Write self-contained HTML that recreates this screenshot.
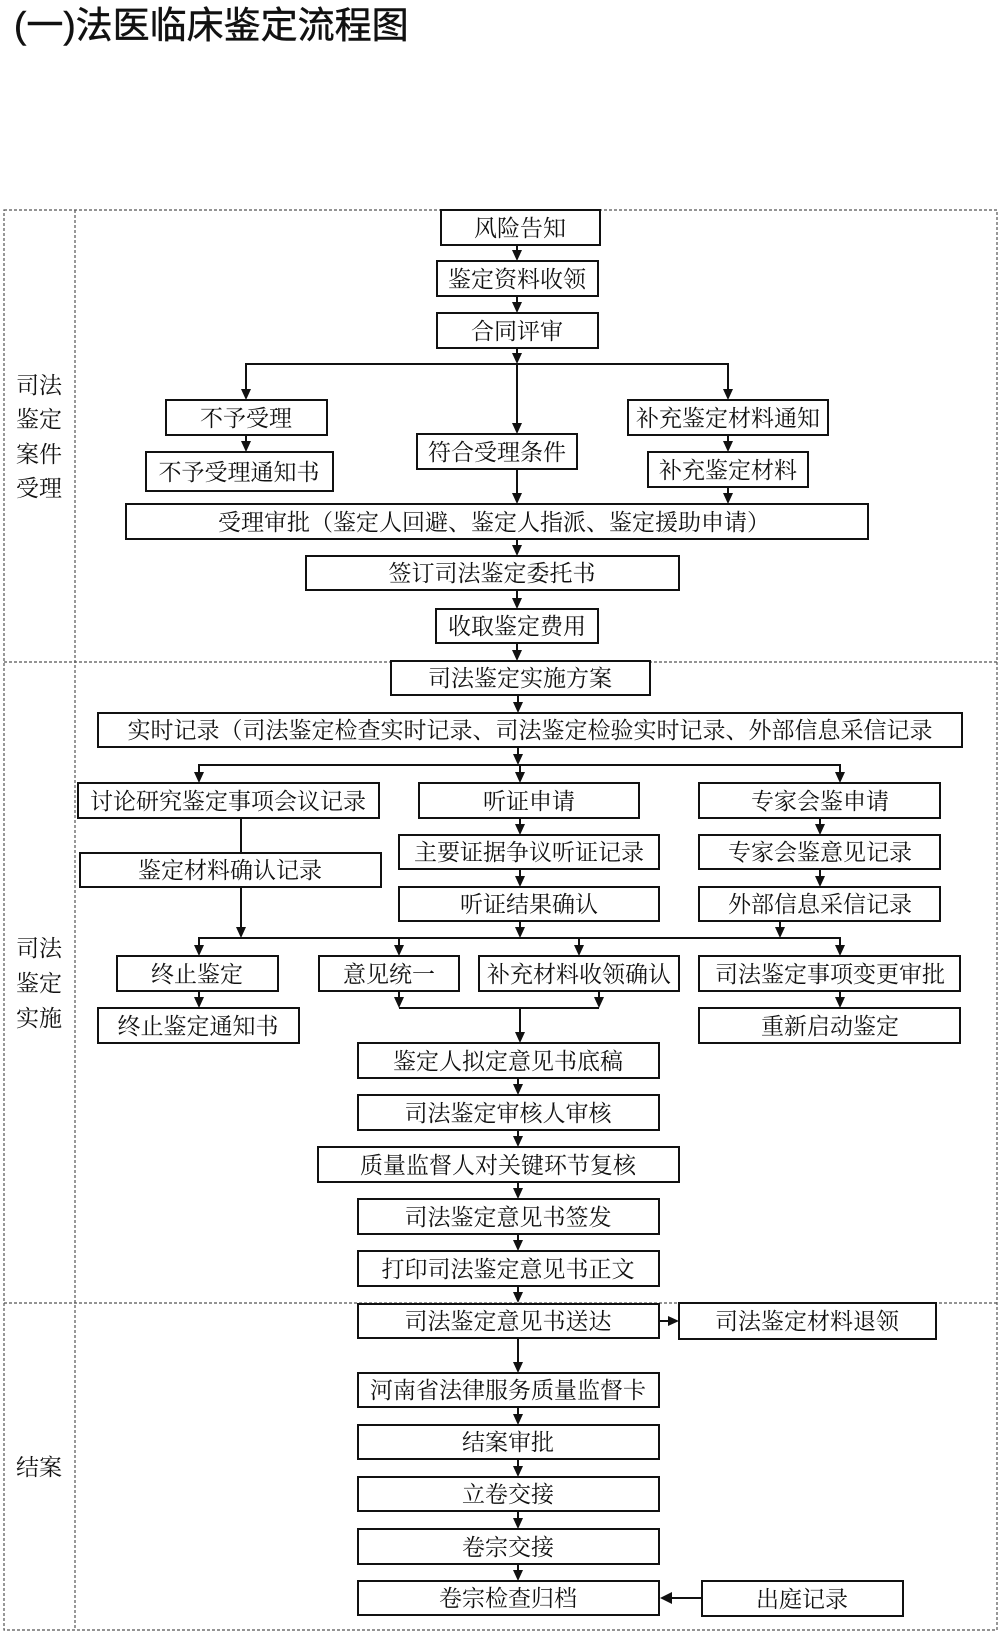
<!DOCTYPE html>
<html><head><meta charset="utf-8"><style>
html,body{margin:0;padding:0;background:#fff;}
svg{display:block;}
text{font-family:"Liberation Serif","Noto Serif CJK SC",serif;font-size:23px;fill:#111;}
</style></head><body>
<svg width="1000" height="1634" viewBox="0 0 1000 1634" xmlns="http://www.w3.org/2000/svg">
<text x="14" y="38" style="font-family:'Liberation Sans','Noto Sans CJK SC',sans-serif;font-size:37px;stroke:#111;stroke-width:0.5;">(一)法医临床鉴定流程图</text>
<g stroke="#555" stroke-width="1.2" stroke-dasharray="3,2" fill="none">
<rect x="4" y="210" width="993" height="1420"/>
<line x1="75" y1="210" x2="75" y2="1630"/>
<line x1="4" y1="662" x2="997" y2="662"/>
<line x1="4" y1="1303" x2="997" y2="1303"/>
</g>
<g text-anchor="middle" style="font-size:22px">
<text x="39" y="393">司法</text><text x="39" y="427">鉴定</text><text x="39" y="462">案件</text><text x="39" y="496">受理</text>
<text x="39" y="956">司法</text><text x="39" y="991">鉴定</text><text x="39" y="1026">实施</text>
<text x="39" y="1475">结案</text>
</g>
<g fill="#fff" stroke="#111" stroke-width="2">
<rect x="441" y="210" width="159" height="35"/>
<rect x="437" y="261" width="161" height="35"/>
<rect x="437" y="313" width="161" height="35"/>
<rect x="166" y="400" width="161" height="35"/>
<rect x="146" y="452" width="187" height="39"/>
<rect x="417" y="434" width="160" height="35"/>
<rect x="628" y="400" width="200" height="35"/>
<rect x="648" y="452" width="160" height="35"/>
<rect x="126" y="504" width="742" height="35"/>
<rect x="306" y="556" width="373" height="34"/>
<rect x="436" y="609" width="162" height="34"/>
<rect x="391" y="661" width="259" height="34"/>
<rect x="98" y="713" width="864" height="34"/>
<rect x="78" y="783" width="301" height="35"/>
<rect x="419" y="783" width="220" height="35"/>
<rect x="699" y="783" width="241" height="35"/>
<rect x="80" y="853" width="301" height="34"/>
<rect x="399" y="835" width="260" height="34"/>
<rect x="699" y="835" width="241" height="34"/>
<rect x="399" y="887" width="260" height="34"/>
<rect x="699" y="887" width="241" height="34"/>
<rect x="117" y="956" width="161" height="35"/>
<rect x="319" y="956" width="140" height="35"/>
<rect x="479" y="956" width="200" height="35"/>
<rect x="699" y="956" width="261" height="35"/>
<rect x="98" y="1008" width="201" height="35"/>
<rect x="699" y="1008" width="261" height="35"/>
<rect x="358" y="1043" width="301" height="35"/>
<rect x="358" y="1095" width="301" height="35"/>
<rect x="318" y="1147" width="361" height="35"/>
<rect x="358" y="1199" width="301" height="35"/>
<rect x="358" y="1251" width="301" height="35"/>
<rect x="358" y="1304" width="301" height="34"/>
<rect x="679" y="1303" width="257" height="36"/>
<rect x="358" y="1373" width="301" height="34"/>
<rect x="358" y="1425" width="301" height="34"/>
<rect x="358" y="1477" width="301" height="34"/>
<rect x="358" y="1529" width="301" height="35"/>
<rect x="358" y="1581" width="301" height="34"/>
<rect x="702" y="1581" width="201" height="35"/>
</g>
<g text-anchor="middle">
<text x="520" y="236">风险告知</text>
<text x="517" y="287">鉴定资料收领</text>
<text x="517" y="339">合同评审</text>
<text x="246" y="426">不予受理</text>
<text x="239" y="480">不予受理通知书</text>
<text x="497" y="460">符合受理条件</text>
<text x="728" y="426">补充鉴定材料通知</text>
<text x="728" y="478">补充鉴定材料</text>
<text x="494" y="530">受理审批（鉴定人回避、鉴定人指派、鉴定援助申请）</text>
<text x="492" y="581">签订司法鉴定委托书</text>
<text x="517" y="634">收取鉴定费用</text>
<text x="520" y="686">司法鉴定实施方案</text>
<text x="530" y="738">实时记录（司法鉴定检查实时记录、司法鉴定检验实时记录、外部信息采信记录</text>
<text x="228" y="809">讨论研究鉴定事项会议记录</text>
<text x="529" y="809">听证申请</text>
<text x="820" y="809">专家会鉴申请</text>
<text x="230" y="878">鉴定材料确认记录</text>
<text x="529" y="860">主要证据争议听证记录</text>
<text x="820" y="860">专家会鉴意见记录</text>
<text x="529" y="912">听证结果确认</text>
<text x="820" y="912">外部信息采信记录</text>
<text x="197" y="982">终止鉴定</text>
<text x="389" y="982">意见统一</text>
<text x="579" y="982">补充材料收领确认</text>
<text x="830" y="982">司法鉴定事项变更审批</text>
<text x="198" y="1034">终止鉴定通知书</text>
<text x="830" y="1034">重新启动鉴定</text>
<text x="508" y="1069">鉴定人拟定意见书底稿</text>
<text x="508" y="1121">司法鉴定审核人审核</text>
<text x="498" y="1173">质量监督人对关键环节复核</text>
<text x="508" y="1225">司法鉴定意见书签发</text>
<text x="508" y="1277">打印司法鉴定意见书正文</text>
<text x="508" y="1329">司法鉴定意见书送达</text>
<text x="807" y="1329">司法鉴定材料退领</text>
<text x="508" y="1398">河南省法律服务质量监督卡</text>
<text x="508" y="1450">结案审批</text>
<text x="508" y="1502">立卷交接</text>
<text x="508" y="1555">卷宗交接</text>
<text x="508" y="1606">卷宗检查归档</text>
<text x="802" y="1607">出庭记录</text>
</g>
<g stroke="#111" stroke-width="2" fill="none">
<line x1="517" y1="245" x2="517" y2="252"/>
<line x1="517" y1="296" x2="517" y2="304"/>
<line x1="517" y1="348" x2="517" y2="355"/>
<polyline points="246,391 246,364 728,364 728,391"/>
<line x1="517" y1="364" x2="517" y2="425"/>
<line x1="246" y1="435" x2="246" y2="443"/>
<line x1="728" y1="435" x2="728" y2="443"/>
<line x1="517" y1="469" x2="517" y2="495"/>
<line x1="728" y1="487" x2="728" y2="495"/>
<line x1="517" y1="539" x2="517" y2="547"/>
<line x1="517" y1="590" x2="517" y2="600"/>
<line x1="517" y1="643" x2="517" y2="652"/>
<line x1="518" y1="695" x2="518" y2="704"/>
<line x1="518" y1="747" x2="518" y2="756"/>
<polyline points="199,774 199,765 840,765 840,774"/>
<line x1="520" y1="765" x2="520" y2="774"/>
<line x1="241" y1="818" x2="241" y2="853"/>
<line x1="520" y1="818" x2="520" y2="826"/>
<line x1="520" y1="869" x2="520" y2="878"/>
<line x1="820" y1="818" x2="820" y2="826"/>
<line x1="820" y1="869" x2="820" y2="878"/>
<line x1="241" y1="887" x2="241" y2="929"/>
<line x1="520" y1="921" x2="520" y2="929"/>
<line x1="780" y1="921" x2="780" y2="929"/>
<polyline points="199,947 199,938 840,938 840,947"/>
<line x1="399" y1="938" x2="399" y2="947"/>
<line x1="579" y1="938" x2="579" y2="947"/>
<line x1="199" y1="991" x2="199" y2="999"/>
<line x1="840" y1="991" x2="840" y2="999"/>
<line x1="399" y1="991" x2="399" y2="999"/>
<line x1="599" y1="991" x2="599" y2="999"/>
<line x1="399" y1="1008" x2="599" y2="1008"/>
<line x1="520" y1="1008" x2="520" y2="1034"/>
<line x1="518" y1="1078" x2="518" y2="1086"/>
<line x1="518" y1="1130" x2="518" y2="1138"/>
<line x1="518" y1="1182" x2="518" y2="1190"/>
<line x1="518" y1="1234" x2="518" y2="1242"/>
<line x1="518" y1="1286" x2="518" y2="1294"/>
<line x1="659" y1="1321" x2="670" y2="1321"/>
<line x1="518" y1="1338" x2="518" y2="1364"/>
<line x1="518" y1="1407" x2="518" y2="1416"/>
<line x1="518" y1="1459" x2="518" y2="1468"/>
<line x1="518" y1="1511" x2="518" y2="1520"/>
<line x1="518" y1="1564" x2="518" y2="1572"/>
<line x1="702" y1="1598" x2="670" y2="1598"/>
</g>
<g fill="#111">
<polygon points="512,250 522,250 517,261"/>
<polygon points="512,302 522,302 517,313"/>
<polygon points="512,353 522,353 517,364"/>
<polygon points="241,389 251,389 246,400"/>
<polygon points="723,389 733,389 728,400"/>
<polygon points="512,423 522,423 517,434"/>
<polygon points="241,441 251,441 246,452"/>
<polygon points="723,441 733,441 728,452"/>
<polygon points="512,493 522,493 517,504"/>
<polygon points="723,493 733,493 728,504"/>
<polygon points="512,545 522,545 517,556"/>
<polygon points="512,598 522,598 517,609"/>
<polygon points="512,650 522,650 517,661"/>
<polygon points="513,702 523,702 518,713"/>
<polygon points="513,754 523,754 518,765"/>
<polygon points="194,772 204,772 199,783"/>
<polygon points="515,772 525,772 520,783"/>
<polygon points="835,772 845,772 840,783"/>
<polygon points="515,824 525,824 520,835"/>
<polygon points="515,876 525,876 520,887"/>
<polygon points="815,824 825,824 820,835"/>
<polygon points="815,876 825,876 820,887"/>
<polygon points="236,927 246,927 241,938"/>
<polygon points="515,927 525,927 520,938"/>
<polygon points="775,927 785,927 780,938"/>
<polygon points="194,945 204,945 199,956"/>
<polygon points="394,945 404,945 399,956"/>
<polygon points="574,945 584,945 579,956"/>
<polygon points="835,945 845,945 840,956"/>
<polygon points="194,997 204,997 199,1008"/>
<polygon points="835,997 845,997 840,1008"/>
<polygon points="394,997 404,997 399,1008"/>
<polygon points="594,997 604,997 599,1008"/>
<polygon points="515,1032 525,1032 520,1043"/>
<polygon points="513,1084 523,1084 518,1095"/>
<polygon points="513,1136 523,1136 518,1147"/>
<polygon points="513,1188 523,1188 518,1199"/>
<polygon points="513,1240 523,1240 518,1251"/>
<polygon points="513,1292 523,1292 518,1303"/>
<polygon points="668,1316 668,1326 679,1321"/>
<polygon points="513,1362 523,1362 518,1373"/>
<polygon points="513,1414 523,1414 518,1425"/>
<polygon points="513,1466 523,1466 518,1477"/>
<polygon points="513,1518 523,1518 518,1529"/>
<polygon points="513,1570 523,1570 518,1581"/>
<polygon points="672,1592 672,1604 660,1598"/>
</g>
</svg>
</body></html>
